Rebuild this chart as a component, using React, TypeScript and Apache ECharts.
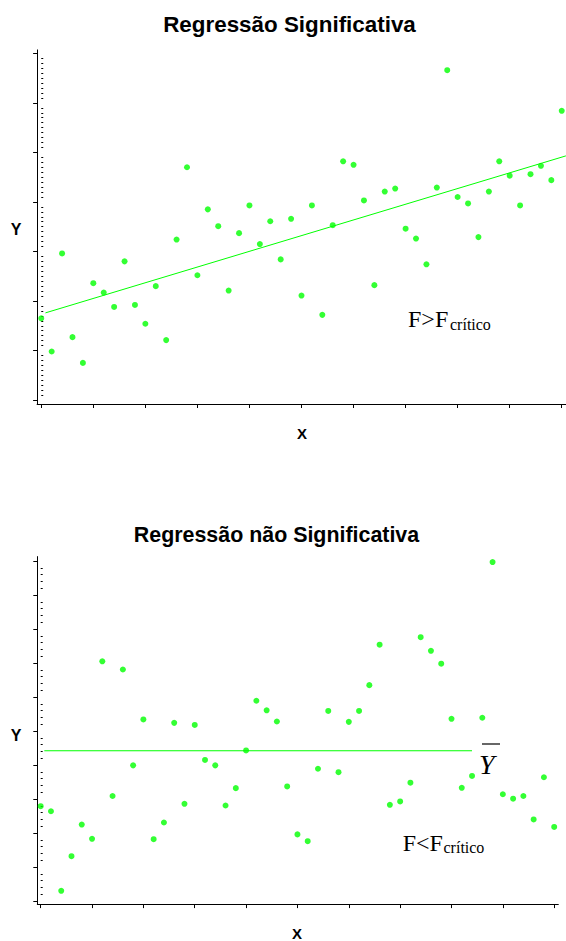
import React, { useEffect, useRef } from "react";
import * as echarts from "echarts";

// ---- data ----
const topY = [
  1.65, 0.98, 2.96, 1.27, 0.75, 2.36, 2.17, 1.88, 2.8, 1.92,
  1.54, 2.3, 1.21, 3.24, 4.7, 2.52, 3.85, 3.51, 2.21, 3.37,
  3.93, 3.15, 3.61, 2.84, 3.66, 2.11, 3.93, 1.72, 3.53, 4.82,
  4.75, 4.03, 2.32, 4.21, 4.27, 3.46, 3.26, 2.74, 4.29, 6.66,
  4.1, 3.97, 3.29, 4.21, 4.82, 4.53, 3.93, 4.56, 4.73, 4.44,
  5.84,
];
const bottomY = [
  2.79, 2.64, 0.3, 1.32, 2.25, 1.83, 7.05, 3.09, 6.81, 3.99,
  5.34, 1.82, 2.31, 5.24, 2.86, 5.18, 4.15, 3.99, 2.81, 3.32,
  4.43, 5.89, 5.61, 5.28, 3.37, 1.96, 1.76, 3.89, 5.59, 3.79,
  5.27, 5.59, 6.35, 7.54, 2.83, 2.93, 3.48, 7.76, 7.36, 6.98,
  5.36, 3.33, 3.68, 5.39, 9.97, 3.14, 3.01, 3.09, 2.4, 3.64,
  2.18,
];
const regLine = [
  [0.4, 1.76],
  [50.4, 4.93],
];
const meanY = 4.42;
const meanX = [0.35, 42.0];

const xTicks = [0, 5, 10, 15, 20, 25, 30, 35, 40, 45, 50];
const topMajor = [0, 1, 2, 3, 4, 5, 6, 7];
const bottomMajor = [0, 1, 2, 3, 4, 5, 6, 7, 8, 9, 10];
const topMinorStep = 0.1;
const bottomMinorStep = 0.2;

const titles = ["Regressão Significativa", "Regressão não Significativa"];

const GREEN = "#00ff00";
const SANS = "'Liberation Sans', Arial, sans-serif";
const SERIF = "'Liberation Serif', 'Times New Roman', serif";

function minorTicks(major: number[], step: number): number[] {
  const out: number[] = [];
  for (let k = 0; k < major.length - 1; k++) {
    const n = Math.round(1 / step);
    for (let j = 1; j < n; j++) out.push(+(major[k] + j * step).toFixed(3));
  }
  return out;
}

export default function App() {
  const ref = useRef<HTMLDivElement>(null);
  useEffect(() => {
    if (!ref.current) return;
    const chart = echarts.init(ref.current, null, { renderer: "svg" });

    const axisLine = { show: true, onZero: false, lineStyle: { color: "#000", width: 1 } };
    const noSplit = { show: false };

    const xAxisCommon = (gridIndex: number, min: number) => ({
      type: "value",
      gridIndex,
      min,
      max: 50.4,
      axisLine,
      axisTick: { show: true, customValues: xTicks, length: 4, lineStyle: { color: "#000" } },
      axisLabel: { show: false },
      splitLine: noSplit,
    });

    const yMain = (gridIndex: number, min: number, max: number, ticks: number[]) => ({
      type: "value",
      gridIndex,
      min,
      max,
      axisLine,
      axisTick: { show: true, customValues: ticks, length: 4, lineStyle: { color: "#000" } },
      axisLabel: { show: false },
      splitLine: noSplit,
    });
    const yMinor = (gridIndex: number, min: number, max: number, ticks: number[]) => ({
      type: "value",
      gridIndex,
      min,
      max,
      axisLine: { show: false },
      axisTick: { show: true, customValues: ticks, length: 2, lineStyle: { color: "#000" } },
      axisLabel: { show: false },
      splitLine: noSplit,
    });

    const option: any = {
      animation: false,
      backgroundColor: "#fff",
      grid: [
        { left: 37.1, top: 49.9, width: 528.8, height: 354.1 },
        { left: 37.3, top: 556.6, width: 521, height: 347.5 },
      ],
      xAxis: [xAxisCommon(0, -0.4), xAxisCommon(1, -0.33)],
      yAxis: [
        yMain(0, -0.08, 7.07, topMajor),
        yMinor(0, -0.08, 7.07, minorTicks(topMajor, topMinorStep)),
        yMain(1, -0.09, 10.13, bottomMajor),
        yMinor(1, -0.09, 10.13, minorTicks(bottomMajor, bottomMinorStep)),
      ],
      series: [
        {
          type: "line",
          xAxisIndex: 0,
          yAxisIndex: 0,
          data: regLine,
          symbol: "none",
          lineStyle: { color: GREEN, width: 1 },
          z: 2,
        },
        {
          type: "scatter",
          xAxisIndex: 0,
          yAxisIndex: 0,
          data: topY.map((v, i) => [i, v]),
          symbolSize: 6,
          itemStyle: { color: GREEN },
          z: 3,
        },
        {
          type: "line",
          xAxisIndex: 1,
          yAxisIndex: 2,
          data: meanX.map((x) => [x, meanY]),
          symbol: "none",
          lineStyle: { color: GREEN, width: 1.2 },
          z: 2,
        },
        {
          type: "scatter",
          xAxisIndex: 1,
          yAxisIndex: 2,
          data: bottomY.map((v, i) => [i, v]),
          symbolSize: 6,
          itemStyle: { color: GREEN },
          z: 3,
        },
      ],
      graphic: [
        { type: "text", x: 289.5, y: 24, style: { text: titles[0], font: `bold 22.4px ${SANS}`, fill: "#000", align: "center", verticalAlign: "middle" } },
        { type: "text", x: 276.5, y: 535, style: { text: titles[1], font: `bold 21.4px ${SANS}`, fill: "#000", align: "center", verticalAlign: "middle" } },
        { type: "text", x: 16, y: 229, style: { text: "Y", font: `bold 16px ${SANS}`, fill: "#000", align: "center", verticalAlign: "middle" } },
        { type: "text", x: 16, y: 735.5, style: { text: "Y", font: `bold 16px ${SANS}`, fill: "#000", align: "center", verticalAlign: "middle" } },
        { type: "text", x: 302, y: 433, style: { text: "X", font: `bold 15px ${SANS}`, fill: "#000", align: "center", verticalAlign: "middle" } },
        { type: "text", x: 297, y: 933.5, style: { text: "X", font: `bold 15px ${SANS}`, fill: "#000", align: "center", verticalAlign: "middle" } },
        { type: "text", x: 408, y: 318.5, style: { text: "F>F", font: `24px ${SERIF}`, fill: "#000", align: "left", verticalAlign: "middle" } },
        { type: "text", x: 450, y: 324.6, style: { text: "crítico", font: `16px ${SERIF}`, fill: "#000", align: "left", verticalAlign: "middle" } },
        { type: "text", x: 402.7, y: 842.5, style: { text: "F<F", font: `24px ${SERIF}`, fill: "#000", align: "left", verticalAlign: "middle" } },
        { type: "text", x: 443.5, y: 847.9, style: { text: "crítico", font: `16px ${SERIF}`, fill: "#000", align: "left", verticalAlign: "middle" } },
        { type: "text", x: 479, y: 764, style: { text: "Y", font: `italic 28px ${SERIF}`, fill: "#000", align: "left", verticalAlign: "middle" } },
        { type: "line", shape: { x1: 482, y1: 744, x2: 500, y2: 744 }, style: { stroke: "#000", lineWidth: 1.2 } },
      ],
    };
    chart.setOption(option);
    return () => chart.dispose();
  }, []);
  return (
    <div
      ref={ref}
      style={{ position: "absolute", left: 0, top: 0, width: 566, height: 941, background: "#fff" }}
    />
  );
}
